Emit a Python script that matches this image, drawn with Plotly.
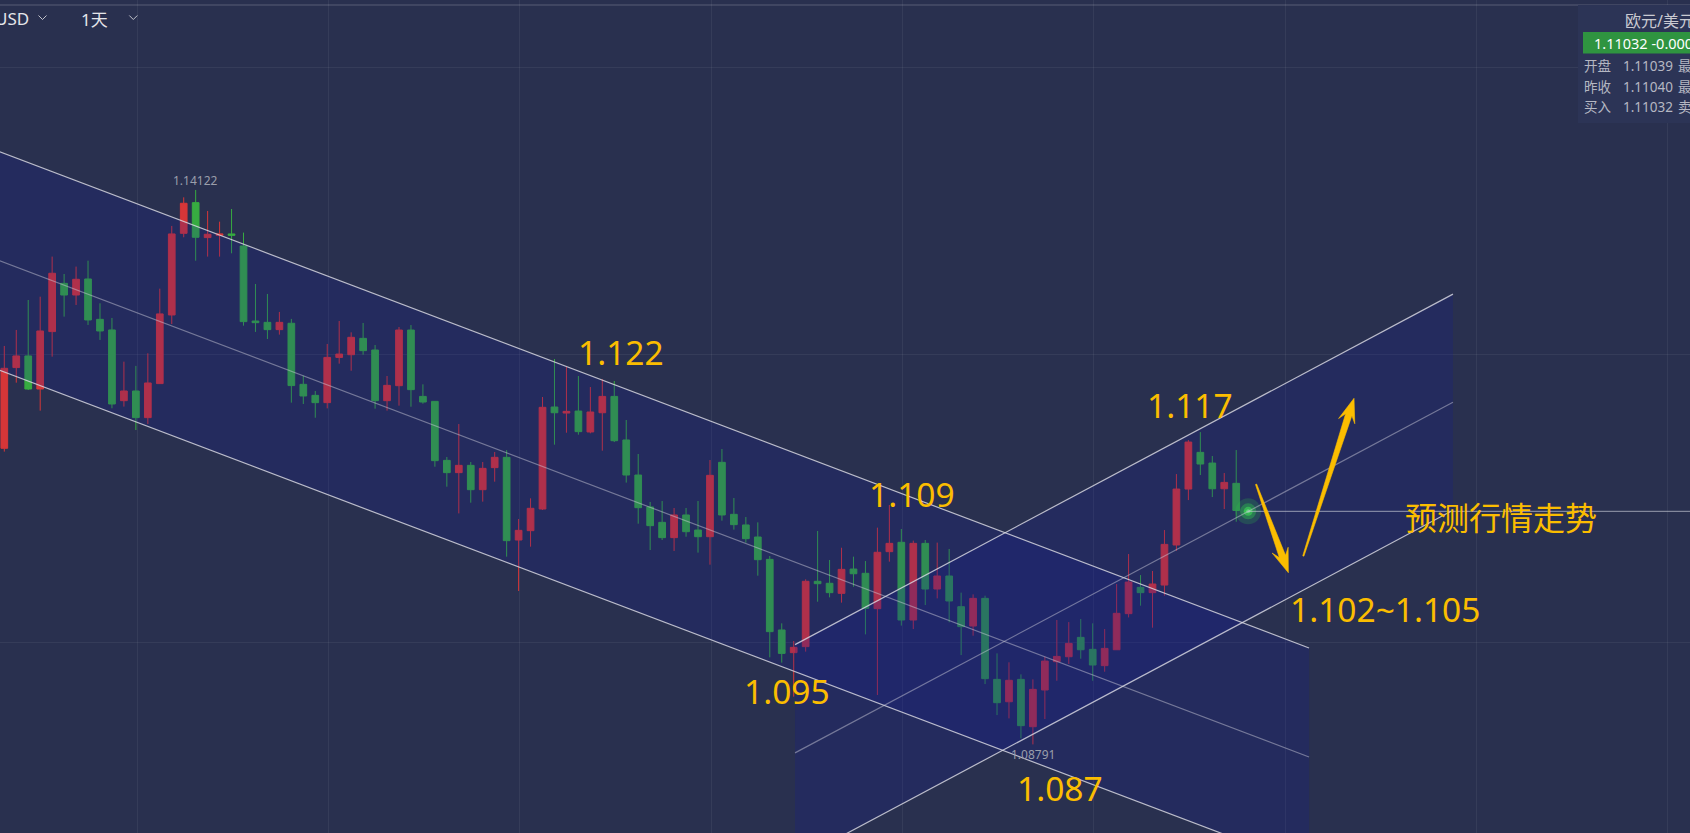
import math
import plotly.graph_objects as go

W, H = 1690, 833

# ---------------- data (EUR/USD daily candles, index = bar number) ----------------
open_ = [1.11638, 1.12414, 1.12526, 1.12208, 1.12760, 1.13224, 1.13112, 1.13266, 1.12878, 1.12776,
         1.12096, 1.12189, 1.11933, 1.12260, 1.12920, 1.13705, 1.14000, 1.13664, 1.13686, 1.13699,
         1.13583, 1.12862, 1.12849, 1.12779, 1.12840, 1.12253, 1.12147, 1.12077, 1.12512, 1.12538,
         1.12695, 1.12583, 1.12096, 1.12240, 1.12775, 1.12137, 1.12089, 1.11522, 1.11404, 1.11474,
         1.11240, 1.11452, 1.11551, 1.10756, 1.10846, 1.11054, 1.12035, 1.11977, 1.11996, 1.11795,
         1.11980, 1.12137, 1.11718, 1.11381, 1.11074, 1.10926, 1.10779, 1.10997, 1.10852, 1.10788,
         1.11503, 1.11003, 1.10901, 1.10785, 1.10570, 1.09891, 1.09673, 1.09731, 1.10359, 1.10340,
         1.10243, 1.10477, 1.10436, 1.10096, 1.10644, 1.10734, 1.09987, 1.10724, 1.10285, 1.10410,
         1.10115, 1.09929, 1.10195, 1.09416, 1.09201, 1.09416, 1.08961, 1.09314, 1.09586, 1.09634,
         1.09820, 1.09705, 1.09548, 1.09701, 1.10048, 1.10301, 1.10250, 1.10323, 1.10708, 1.11246,
         1.11599, 1.11496, 1.11249, 1.11301, 1.11039]
high = [1.12622, 1.12776, 1.13064, 1.13096, 1.13481, 1.13314, 1.13385, 1.13442, 1.13032, 1.12891,
        1.12471, 1.12430, 1.12551, 1.13173, 1.13776, 1.14051, 1.14122, 1.13920, 1.13817, 1.13939,
        1.13712, 1.13218, 1.13122, 1.12949, 1.12882, 1.12336, 1.12189, 1.12641, 1.12862, 1.12753,
        1.12843, 1.12631, 1.12333, 1.12804, 1.12823, 1.12253, 1.12089, 1.11554, 1.11871, 1.11506,
        1.11506, 1.11602, 1.11621, 1.10958, 1.11157, 1.12131, 1.12496, 1.12423, 1.12333, 1.12227,
        1.12301, 1.12285, 1.11910, 1.11583, 1.11122, 1.11131, 1.11064, 1.11064, 1.11131, 1.11525,
        1.11631, 1.11160, 1.10977, 1.10926, 1.10602, 1.09955, 1.09785, 1.10378, 1.10843, 1.10564,
        1.10682, 1.10596, 1.10554, 1.10875, 1.11093, 1.10862, 1.10750, 1.10756, 1.10731, 1.10670,
        1.10250, 1.10233, 1.10221, 1.09666, 1.09580, 1.09464, 1.09416, 1.09634, 1.09987, 1.09967,
        1.09996, 1.09955, 1.09900, 1.10333, 1.10621, 1.10419, 1.10458, 1.10852, 1.11390, 1.11717,
        1.11794, 1.11564, 1.11400, 1.11621, 1.11045]
low = [1.11606, 1.12269, 1.12199, 1.12000, 1.12519, 1.12904, 1.13016, 1.12824, 1.12680, 1.12023,
       1.12039, 1.11814, 1.11872, 1.12257, 1.12833, 1.13667, 1.13442, 1.13481, 1.13481, 1.13513,
       1.12817, 1.12757, 1.12689, 1.12731, 1.12077, 1.12064, 1.11932, 1.12022, 1.12452, 1.12384,
       1.12538, 1.12019, 1.12000, 1.12048, 1.12038, 1.12067, 1.11461, 1.11269, 1.11012, 1.11115,
       1.11125, 1.11317, 1.10596, 1.10266, 1.10692, 1.11045, 1.11673, 1.11788, 1.11769, 1.11782,
       1.11615, 1.11698, 1.11308, 1.10913, 1.10660, 1.10756, 1.10651, 1.10788, 1.10635, 1.10519,
       1.10942, 1.10856, 1.10731, 1.10413, 1.09628, 1.09577, 1.09250, 1.09683, 1.10163, 1.10205,
       1.10154, 1.10307, 1.09849, 1.09266, 1.10548, 1.09933, 1.09900, 1.10131, 1.10195, 1.09965,
       1.09650, 1.09836, 1.09371, 1.09073, 1.09041, 1.08849, 1.08791, 1.09035, 1.09403, 1.09564,
       1.09615, 1.09403, 1.09490, 1.09701, 1.10012, 1.10125, 1.09913, 1.10221, 1.10653, 1.11140,
       1.11381, 1.11169, 1.11054, 1.10932, 1.11028]
close = [1.12407, 1.12526, 1.12208, 1.12766, 1.13321, 1.13112, 1.13263, 1.12872, 1.12766, 1.12064,
         1.12189, 1.11933, 1.12266, 1.12930, 1.13699, 1.13994, 1.13667, 1.13696, 1.13699, 1.13686,
         1.12856, 1.12846, 1.12779, 1.12849, 1.12241, 1.12141, 1.12077, 1.12512, 1.12544, 1.12705,
         1.12577, 1.12096, 1.12243, 1.12775, 1.12202, 1.12083, 1.11519, 1.11404, 1.11474, 1.11240,
         1.11445, 1.11551, 1.10750, 1.10849, 1.11061, 1.12032, 1.11980, 1.11993, 1.11798, 1.11987,
         1.12137, 1.11711, 1.11381, 1.11067, 1.10894, 1.10779, 1.10997, 1.10836, 1.10788, 1.11378,
         1.10997, 1.10904, 1.10769, 1.10567, 1.09875, 1.09666, 1.09724, 1.10359, 1.10336, 1.10250,
         1.10474, 1.10432, 1.10099, 1.10638, 1.10724, 1.09987, 1.10724, 1.10285, 1.10410, 1.10170,
         1.09923, 1.10195, 1.09423, 1.09192, 1.09407, 1.08971, 1.09320, 1.09592, 1.09637, 1.09762,
         1.09701, 1.09554, 1.09714, 1.10051, 1.10352, 1.10250, 1.10333, 1.10714, 1.11246, 1.11698,
         1.11487, 1.11249, 1.11310, 1.11040, 1.11032]
bars = list(range(len(open_)))

# drawn channels: (bar index, price) end points
desc_x = [-1.0, 109.09]
desc_upper = [1.145152, 1.097177]
desc_mid = [1.134671, 1.086697]
desc_lower = [1.124142, 1.076168]
asc_x = [66.11, 121.12]
asc_upper = [1.097504, 1.131206]
asc_mid = [1.087091, 1.120802]
asc_lower = [1.076697, 1.110418]

# analyst labels
label_text = ["1.122", "1.117", "1.109", "1.095", "1.087", "1.102~1.105"]
label_x = [51.56, 99.14, 75.87, 65.42, 88.24, 115.44]
label_y = [1.125639, 1.120543, 1.111985, 1.093062, 1.083764, 1.100947]
forecast_text = "预测行情走势"
forecast_x, forecast_y = 125.13, 1.109773

# forecast arrows (tail -> tip)
arrow_tail_x = [104.66, 108.61]
arrow_tail_y = [1.112918, 1.106023]
arrow_tip_x = [107.36, 112.85]
arrow_tip_y = [1.104418, 1.121187]

# quote panel
panel_title = "欧元/美元"
panel_quote = "1.11032 -0.000"
panel_rows = [("开盘", "1.11039", "最"), ("昨收", "1.11040", "最"), ("买入", "1.11032", "卖")]
symbol_text = "USD"
period_text = "1天"

x_range = [-0.36, 140.94]
y_range = [1.079389, 1.159485]

# ---------------- style ----------------
BG = "#29304f"
UP = "#d63638"
DN = "#37ab41"
FILL = "rgba(21,23,153,0.20)"
EDGE = "rgba(220,220,228,0.82)"
MID = "rgba(205,205,218,0.48)"
GOLD = "#fbbd00"
FONT = "Noto Sans, Noto Sans CJK SC, sans-serif"

px_x = W / (x_range[1] - x_range[0])
px_y = H / (y_range[1] - y_range[0])


def P(px, py):
    """pixel -> paper coords (for chrome outside the data)"""
    return px / W, 1 - py / H


fig = go.Figure()
fig.add_trace(go.Candlestick(
    x=bars, open=open_, high=high, low=low, close=close,
    increasing=dict(line=dict(color=UP, width=1), fillcolor=UP),
    decreasing=dict(line=dict(color=DN, width=1), fillcolor=DN),
    whiskerwidth=0, hoverinfo="skip", showlegend=False))

# current price glow
cx, cy = bars[-1], close[-1]
for s, c in [(26, "rgba(50,235,50,0.22)"), (16, "rgba(55,245,55,0.40)"), (9, "rgba(70,255,70,0.65)"),
             (4, "#7dff7d")]:
    fig.add_trace(go.Scatter(x=[cx], y=[cy], mode="markers", hoverinfo="skip",
                             marker=dict(size=s, color=c, line=dict(width=0)), showlegend=False))

shapes = []


def poly(xs, top, bot):
    pts = [(xs[0], top[0]), (xs[1], top[1]), (xs[1], bot[1]), (xs[0], bot[0])]
    return "M " + " L ".join(f"{a},{b}" for a, b in pts) + " Z"


shapes.append(dict(type="path", xref="x", yref="y", path=poly(desc_x, desc_upper, desc_lower),
                   fillcolor=FILL, line=dict(width=0), layer="above"))
shapes.append(dict(type="path", xref="x", yref="y", path=poly(asc_x, asc_upper, asc_lower),
                   fillcolor=FILL, line=dict(width=0), layer="above"))
for xs, ys, col in [(desc_x, desc_upper, EDGE), (desc_x, desc_mid, MID), (desc_x, desc_lower, EDGE),
                    (asc_x, asc_upper, EDGE), (asc_x, asc_mid, MID), (asc_x, asc_lower, EDGE)]:
    shapes.append(dict(type="line", xref="x", yref="y", x0=xs[0], y0=ys[0], x1=xs[1], y1=ys[1],
                       line=dict(color=col, width=1.2), layer="above"))

# current price line
shapes.append(dict(type="line", xref="x", yref="y", x0=cx, y0=cy, x1=x_range[1], y1=cy,
                   line=dict(color="rgba(190,193,205,0.75)", width=1), layer="above"))


def arrow_path(x0, y0, x1, y1, hl=24.0, hw=8.5, sw=3.3, tw=0.6):
    X0, Y0, X1, Y1 = x0 * px_x, y0 * px_y, x1 * px_x, y1 * px_y
    L = math.hypot(X1 - X0, Y1 - Y0)
    ux, uy = (X1 - X0) / L, (Y1 - Y0) / L
    nx, ny = -uy, ux

    def pt(d, w):
        return ((X0 + ux * d + nx * w) / px_x, (Y0 + uy * d + ny * w) / px_y)
    pts = [pt(0, tw), pt(L - hl * 0.72, sw), pt(L - hl, hw), pt(L, 0),
           pt(L - hl, -hw), pt(L - hl * 0.72, -sw), pt(0, -tw)]
    return "M " + " L ".join(f"{a},{b}" for a, b in pts) + " Z"


for a, b, c, d in zip(arrow_tail_x, arrow_tail_y, arrow_tip_x, arrow_tip_y):
    shapes.append(dict(type="path", xref="x", yref="y", path=arrow_path(a, b, c, d),
                       fillcolor=GOLD, line=dict(color=GOLD, width=0.6), layer="above"))

# top chrome
x0p, y0p = P(0, 5)
x1p, _ = P(W, 5)
shapes.append(dict(type="line", xref="paper", yref="paper", x0=x0p, y0=y0p, x1=x1p, y1=y0p,
                   line=dict(color="rgba(255,255,255,0.22)", width=1)))
for cxp in (42.5, 133.3):
    a = P(cxp - 4, 15.5)
    b = P(cxp, 19.5)
    c = P(cxp + 4, 15.5)
    shapes.append(dict(type="path", xref="paper", yref="paper",
                       path=f"M {a[0]},{a[1]} L {b[0]},{b[1]} L {c[0]},{c[1]}",
                       line=dict(color="rgba(220,220,225,0.85)", width=1)))

# quote panel
pa, pb = P(1578, 5), P(W + 5, 123)
shapes.append(dict(type="rect", xref="paper", yref="paper", x0=pa[0], y0=pb[1], x1=pb[0], y1=pa[1],
                   fillcolor="#2c3456", line=dict(width=0)))
ga, gb = P(1583, 32), P(W + 5, 53.5)
shapes.append(dict(type="rect", xref="paper", yref="paper", x0=ga[0], y0=gb[1], x1=gb[0], y1=ga[1],
                   fillcolor="#2f9440", line=dict(width=0)))

annotations = []
for t, x, y in zip(label_text, label_x, label_y):
    annotations.append(dict(x=x, y=y, xref="x", yref="y", text=t, showarrow=False,
                            xanchor="center", yanchor="middle",
                            font=dict(family=FONT, size=33.5, color=GOLD)))
annotations.append(dict(x=forecast_x, y=forecast_y, xref="x", yref="y", text=forecast_text,
                        showarrow=False, xanchor="center", yanchor="middle",
                        font=dict(family=FONT, size=32, color=GOLD)))

# high / low markers
hi_i = max(bars, key=lambda k: high[k])
lo_i = min(bars, key=lambda k: low[k])
annotations.append(dict(x=hi_i, y=high[hi_i], xref="x", yref="y", text=f"{high[hi_i]:.5f}",
                        showarrow=False, xanchor="center", yanchor="bottom", yshift=-1,
                        font=dict(family=FONT, size=12, color="#9a9eab")))
annotations.append(dict(x=lo_i, y=low[lo_i], xref="x", yref="y", text=f"{low[lo_i]:.5f}",
                        showarrow=False, xanchor="center", yanchor="top",
                        font=dict(family=FONT, size=12, color="#9a9eab")))


def ptext(px, py, text, size, color, anchor="left"):
    xp, yp = P(px, py)
    annotations.append(dict(x=xp, y=yp, xref="paper", yref="paper", text=text, showarrow=False,
                            xanchor=anchor, yanchor="middle",
                            font=dict(family=FONT, size=size, color=color)))


ptext(31, 19, symbol_text, 17, "#e4e5ea", "right")
ptext(94, 19.5, period_text, 17, "#e4e5ea", "center")
ptext(1623, 21, panel_title, 16, "#c9cad2")
ptext(1592, 43, panel_quote, 14.5, "#ffffff")
for k, (a, b, c) in enumerate(panel_rows):
    yy = 66.5 + 20 * k
    ptext(1582, yy, a, 13.5, "#b5b7c2")
    ptext(1621, yy, b, 13.5, "#b5b7c2")
    ptext(1676, yy, c, 13.5, "#b5b7c2")

fig.update_layout(
    width=W, height=H, margin=dict(l=0, r=0, t=0, b=0),
    paper_bgcolor=BG, plot_bgcolor=BG,
    boxgap=0.3, boxgroupgap=0.2,
    hovermode=False, showlegend=False,
    shapes=shapes, annotations=annotations,
    xaxis=dict(range=x_range, showticklabels=False, ticks="", zeroline=False, showline=False,
               showgrid=True, gridcolor="rgba(255,255,255,0.06)", gridwidth=1,
               tick0=11.1, dtick=16, rangeslider=dict(visible=False), fixedrange=True),
    yaxis=dict(range=y_range, showticklabels=False, ticks="", zeroline=False, showline=False,
               showgrid=True, gridcolor="rgba(255,255,255,0.06)", gridwidth=1,
               tick0=1.097754, dtick=0.027597, fixedrange=True),
)

fig.write_html("out.html", config={"displayModeBar": False},
               post_script="document.body.style.margin='0';document.body.style.overflow='hidden';")
